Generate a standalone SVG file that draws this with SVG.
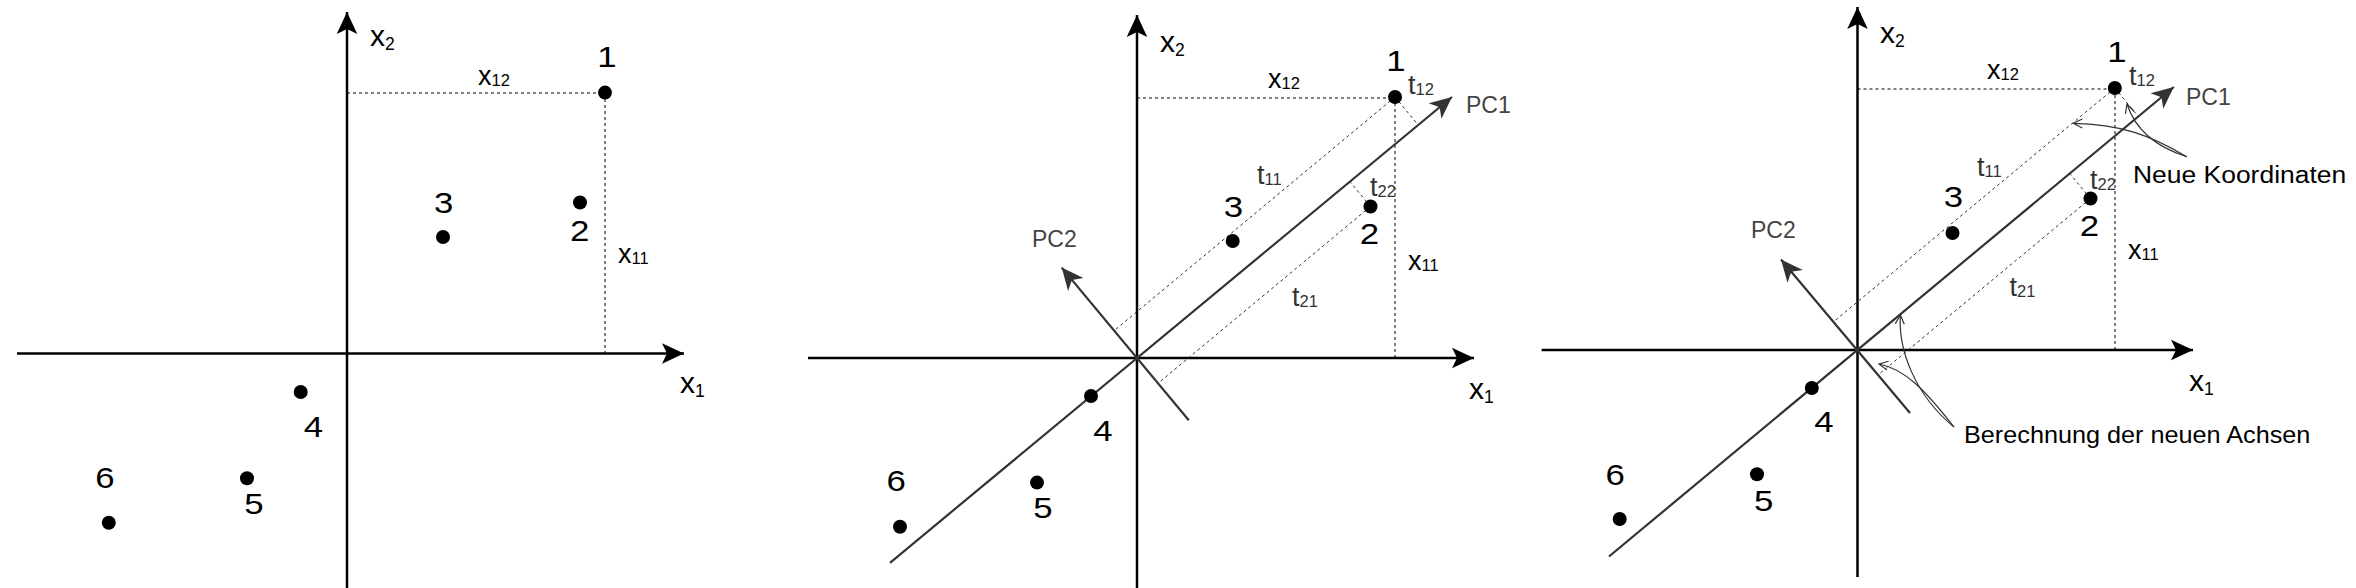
<svg xmlns="http://www.w3.org/2000/svg" width="2356" height="588" viewBox="0 0 2356 588">
<style>
  text { font-family: "Liberation Sans", Arial, Helvetica, sans-serif; fill: #000; }
  .d { font-size: 29px; text-anchor: middle; }
  .ax { font-size: 30px; }
  .axs { font-size: 17.5px; }
  .v { font-size: 27px; }
  .vs { font-size: 16.5px; }
  .g { fill: #333; }
  .pc { font-size: 23px; fill: #444; }
  .ann { font-size: 24.5px; }
  .axis { stroke: #000; stroke-width: 2.5; fill: none; marker-end: url(#aAxis); }
  .pcl { stroke: #333; stroke-width: 2.2; fill: none; }
  .pca { marker-end: url(#aPC); }
  .dot { stroke: #000; stroke-width: 1; stroke-dasharray: 3 3; fill: none; }
  .dotg { stroke: #333; stroke-width: 1; stroke-dasharray: 3 3; fill: none; }
  .cur { stroke: #333; stroke-width: 1.2; fill: none; marker-end: url(#aOpen); }
  .pt { fill: #000; }
</style>
<defs>
  <marker id="aAxis" markerUnits="userSpaceOnUse" viewBox="-23 -11 24 22" refX="0" refY="0" markerWidth="24" markerHeight="22" orient="auto">
    <path d="M0,0 L-22,-10.3 L-17,0 L-22,10.3 Z" fill="#000"/>
  </marker>
  <marker id="aPC" markerUnits="userSpaceOnUse" viewBox="-23 -11 24 22" refX="0" refY="0" markerWidth="24" markerHeight="22" orient="auto">
    <path d="M0,0 L-22,-10 L-16,0 L-22,10 Z" fill="#333"/>
  </marker>
  <marker id="aOpen" markerUnits="userSpaceOnUse" viewBox="-11 -6 12 12" refX="0" refY="0" markerWidth="12" markerHeight="12" orient="auto">
    <path d="M-9,-4.5 L0,0 L-9,4.5" fill="none" stroke="#333" stroke-width="1.2"/>
  </marker>
</defs>

<!-- ============ Panel 1 ============ -->
<g id="panel1">
  <g id="p1-connectors">
    <path class="axis" d="M347,588 V12"/>
    <path class="axis" d="M17,353.5 H684"/>
    <path class="dot" d="M347,93 H605"/>
    <path class="dot" d="M605,93 V353"/>
  </g>
  <g id="p1-pt1"><circle class="pt" cx="605" cy="92.6" r="7"/><text class="d" transform="translate(607,67) scale(1.2,1)">1</text></g>
  <g id="p1-pt2"><circle class="pt" cx="580" cy="202.5" r="7"/><text class="d" transform="translate(579.7,240.7) scale(1.2,1)">2</text></g>
  <g id="p1-pt3"><circle class="pt" cx="443" cy="237" r="7"/><text class="d" transform="translate(443.7,213.3) scale(1.2,1)">3</text></g>
  <g id="p1-pt4"><circle class="pt" cx="300.7" cy="392" r="7"/><text class="d" transform="translate(313.5,436.7) scale(1.2,1)">4</text></g>
  <g id="p1-pt5"><circle class="pt" cx="247" cy="478.3" r="7"/><text class="d" transform="translate(254,514) scale(1.2,1)">5</text></g>
  <g id="p1-pt6"><circle class="pt" cx="108.8" cy="522.7" r="7"/><text class="d" transform="translate(105,488.3) scale(1.2,1)">6</text></g>
  <g id="p1-labels">
    <text class="ax" x="370" y="46">x<tspan class="axs" dy="4">2</tspan></text>
    <text class="ax" x="680" y="393">x<tspan class="axs" dy="4">1</tspan></text>
    <text class="v" x="478" y="85">x<tspan class="vs" dy="1">12</tspan></text>
    <text class="v" x="618" y="263">x<tspan class="vs" dy="1">11</tspan></text>
  </g>
</g>

<!-- ============ Panel 2 ============ -->
<g id="panel2">
  <g id="p2-connectors">
    <path class="axis" d="M1137,588 V15"/>
    <path class="axis" d="M808,358 H1474"/>
    <path class="dot" d="M1137,98 H1395"/>
    <path class="dot" d="M1395,97 V358"/>
    <path class="dotg" d="M1395,97 L1114.2,330.6"/>
    <path class="dotg" d="M1370.5,206.5 L1158,383.3"/>
    <path class="dotg" d="M1395,97 L1418.2,125"/>
    <path class="dotg" d="M1370.5,206.5 L1349.9,181.6"/>
    <path class="pcl pca" d="M890,562.8 L1452,97"/>
    <path class="pcl pca" d="M1188.8,420.3 L1061.7,267.6"/>
  </g>
  <g id="p2-pt1"><circle class="pt" cx="1395" cy="97" r="7"/><text class="d" transform="translate(1396,71) scale(1.2,1)">1</text></g>
  <g id="p2-pt2"><circle class="pt" cx="1370.5" cy="206.5" r="7"/><text class="d" transform="translate(1369.5,243.7) scale(1.2,1)">2</text></g>
  <g id="p2-pt3"><circle class="pt" cx="1232.7" cy="241" r="7"/><text class="d" transform="translate(1233.5,216.7) scale(1.2,1)">3</text></g>
  <g id="p2-pt4"><circle class="pt" cx="1091" cy="396" r="7"/><text class="d" transform="translate(1103,440.6) scale(1.2,1)">4</text></g>
  <g id="p2-pt5"><circle class="pt" cx="1037" cy="482.6" r="7"/><text class="d" transform="translate(1043,517.5) scale(1.2,1)">5</text></g>
  <g id="p2-pt6"><circle class="pt" cx="900" cy="526.8" r="7"/><text class="d" transform="translate(896.3,491) scale(1.2,1)">6</text></g>
  <g id="p2-labels">
    <text class="ax" x="1160" y="52">x<tspan class="axs" dy="4">2</tspan></text>
    <text class="ax" x="1469" y="399">x<tspan class="axs" dy="4">1</tspan></text>
    <text class="v" x="1268" y="88">x<tspan class="vs" dy="1">12</tspan></text>
    <text class="v" x="1408" y="270">x<tspan class="vs" dy="1">11</tspan></text>
    <text class="v g" x="1408" y="94">t<tspan class="vs g" dy="1">12</tspan></text>
    <text class="v g" x="1257" y="183.5">t<tspan class="vs g" dy="1">11</tspan></text>
    <text class="v g" x="1370" y="195.7">t<tspan class="vs g" dy="1">22</tspan></text>
    <text class="v g" x="1292" y="305.6">t<tspan class="vs g" dy="1">21</tspan></text>
    <text class="pc" x="1466" y="113">PC1</text>
    <text class="pc" x="1032" y="247">PC2</text>
  </g>
</g>

<!-- ============ Panel 3 ============ -->
<g id="panel3">
  <g id="p3-connectors">
    <path class="axis" d="M1857.5,577 V7"/>
    <path class="axis" d="M1541.6,350 H2193"/>
    <path class="dot" d="M1857.5,89 H2114.8"/>
    <path class="dot" d="M2115,89 V350"/>
    <path class="dotg" d="M2114.8,88 L1833.8,321.5"/>
    <path class="dotg" d="M2090.5,198.5 L1878.2,374.9"/>
    <path class="dotg" d="M2114.8,88 L2138.4,116.6"/>
    <path class="dotg" d="M2090.5,198.5 L2069.7,173.6"/>
    <path class="pcl pca" d="M1609,556.5 L2173.8,87"/>
    <path class="pcl pca" d="M1910,413 L1781,259.5"/>
    <path class="cur" d="M2186.7,156.7 C2150,135 2120,124 2073.3,123.3"/>
    <path class="cur" d="M2186.7,156.7 C2150,145 2134,126 2127,104"/>
    <path class="cur" d="M1954,427 C1915,395 1898,350 1900.4,315"/>
    <path class="cur" d="M1954,427 C1925,390 1905,369 1879,364"/>
  </g>
  <g id="p3-pt1"><circle class="pt" cx="2114.8" cy="88" r="7"/><text class="d" transform="translate(2117,62) scale(1.2,1)">1</text></g>
  <g id="p3-pt2"><circle class="pt" cx="2090.5" cy="198.5" r="7"/><text class="d" transform="translate(2089.5,236) scale(1.2,1)">2</text></g>
  <g id="p3-pt3"><circle class="pt" cx="1952.5" cy="233" r="7"/><text class="d" transform="translate(1953.5,207) scale(1.2,1)">3</text></g>
  <g id="p3-pt4"><circle class="pt" cx="1811.8" cy="388" r="7"/><text class="d" transform="translate(1824,431.5) scale(1.2,1)">4</text></g>
  <g id="p3-pt5"><circle class="pt" cx="1757" cy="474.3" r="7"/><text class="d" transform="translate(1763.7,511) scale(1.2,1)">5</text></g>
  <g id="p3-pt6"><circle class="pt" cx="1619.7" cy="519" r="7"/><text class="d" transform="translate(1615.3,485) scale(1.2,1)">6</text></g>
  <g id="p3-labels">
    <text class="ax" x="1880" y="43">x<tspan class="axs" dy="4">2</tspan></text>
    <text class="ax" x="2189" y="391">x<tspan class="axs" dy="4">1</tspan></text>
    <text class="v" x="1987" y="79">x<tspan class="vs" dy="1">12</tspan></text>
    <text class="v" x="2128" y="259">x<tspan class="vs" dy="1">11</tspan></text>
    <text class="v g" x="2129" y="85">t<tspan class="vs g" dy="1">12</tspan></text>
    <text class="v g" x="1977" y="176">t<tspan class="vs g" dy="1">11</tspan></text>
    <text class="v g" x="2090" y="189">t<tspan class="vs g" dy="1">22</tspan></text>
    <text class="v g" x="2009.5" y="296">t<tspan class="vs g" dy="1">21</tspan></text>
    <text class="pc" x="2186" y="105">PC1</text>
    <text class="pc" x="1751" y="238">PC2</text>
  </g>
  <g id="p3-note-neue"><text class="ann" transform="translate(2133,183) scale(1.08,1)">Neue Koordinaten</text></g>
  <g id="p3-note-berechnung"><text class="ann" transform="translate(1964,443) scale(1.03,1)">Berechnung der neuen Achsen</text></g>
</g>
</svg>
